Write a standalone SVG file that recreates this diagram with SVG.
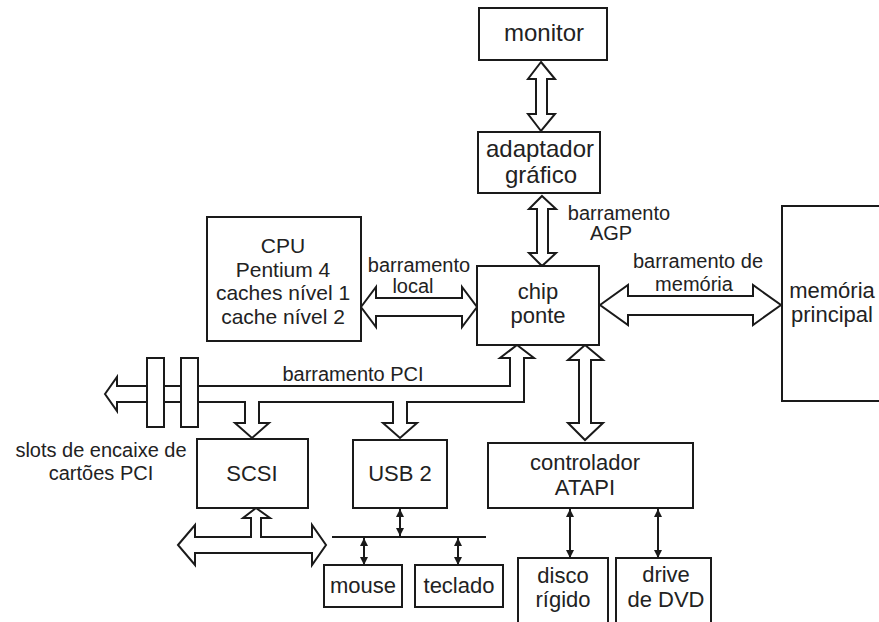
<svg xmlns="http://www.w3.org/2000/svg" width="879" height="622" viewBox="0 0 879 622">
<style>
.box{fill:#fff;stroke:#1a1a1a;stroke-width:2}
.bus{fill:#fff;stroke:#1a1a1a;stroke-width:2;stroke-linejoin:miter}
.ln{stroke:#1a1a1a;stroke-width:2;fill:none}
text{font-family:"Liberation Sans",Arial,sans-serif;fill:#222;text-anchor:middle}
.t{font-size:22px}
.tb{font-size:24px}
.tc{font-size:21px}
.lb{font-size:20px}
</style>
<defs>
<marker id="ah" viewBox="0 0 10 10" refX="10" refY="5" markerWidth="8" markerHeight="8" markerUnits="userSpaceOnUse" orient="auto-start-reverse">
<path d="M0,0 L10,5 L0,10 z" fill="#1a1a1a"/>
</marker>
</defs>
<rect width="879" height="622" fill="#fff"/>

<g id="connectors">
<!-- monitor <-> adaptador -->
<polygon class="bus" points="541,62 555,79 547,79 547,114 555,114 541,131 528,114 536,114 536,79 528,79"/>
<!-- AGP -->
<polygon class="bus" points="542,196 556,209 548,209 548,253 556,253 542,266 529,253 537,253 537,209 529,209"/>
<!-- barramento local -->
<polygon class="bus" points="361,307 376,287 376,298 462,298 462,287 477,307 462,327 462,316 376,316 376,327"/>
<!-- barramento de memória -->
<polygon class="bus" points="600,305 628,285 628,296 753,296 753,285 781,305 753,325 753,315 628,315 628,325"/>
<!-- chip <-> ATAPI -->
<polygon class="bus" points="585,345 603,360 591,360 591,423 603,423 585,440 568,423 579,423 579,360 568,360"/>
<!-- PCI bus -->
<polygon class="bus" points="105,394 117,377 117,386 510,386 510,358 500,358 517,345 534,358 524,358 524,402 407,402 407,423 417,423 400,438 383,423 393,423 393,402 259,402 259,423 269,423 252,438 235,423 245,423 245,402 117,402 117,411"/>
<!-- SCSI bus -->
<polygon class="bus" points="178,545 195,525 195,537 251,537 251,518 243,518 256,508 270,518 261,518 261,537 312,537 312,525 326,545 312,565 312,553 195,553 195,565"/>
<!-- USB bus -->
<line class="ln" x1="332" y1="537" x2="486" y2="537"/>
<line class="ln" x1="400" y1="509" x2="400" y2="536" marker-start="url(#ah)" marker-end="url(#ah)"/>
<line class="ln" x1="364" y1="538" x2="364" y2="565" marker-start="url(#ah)" marker-end="url(#ah)"/>
<line class="ln" x1="458" y1="538" x2="458" y2="565" marker-start="url(#ah)" marker-end="url(#ah)"/>
<!-- ATAPI devices -->
<line class="ln" x1="570" y1="509" x2="570" y2="558" marker-start="url(#ah)" marker-end="url(#ah)"/>
<line class="ln" x1="658" y1="509" x2="658" y2="558" marker-start="url(#ah)" marker-end="url(#ah)"/>
</g>

<g id="slots">
<rect class="box" x="147" y="358" width="17" height="69"/>
<rect class="box" x="181" y="358" width="17" height="69"/>
<text class="lb" x="101" y="457">slots de encaixe de</text>
<text class="lb" x="101" y="480">cartões PCI</text>
</g>

<g id="labels">
<text class="lb" x="619" y="220">barramento</text>
<text class="lb" x="611" y="240">AGP</text>
<text class="lb" x="419" y="272">barramento</text>
<text class="lb" x="413" y="293">local</text>
<text class="lb" x="698" y="268">barramento de</text>
<text class="lb" x="694" y="291">memória</text>
<text class="lb" x="353" y="381">barramento PCI</text>
</g>

<g id="monitor">
<rect class="box" x="479" y="8" width="128" height="52"/>
<text class="tb" x="544" y="41">monitor</text>
</g>

<g id="adaptador">
<rect class="box" x="478" y="132" width="122" height="61"/>
<text class="tb" x="540" y="157">adaptador</text>
<text class="tb" x="541" y="183">gráfico</text>
</g>

<g id="cpu">
<rect class="box" x="207" y="217" width="154" height="124"/>
<text class="tc" x="283" y="253">CPU</text>
<text class="tc" x="283" y="277">Pentium 4</text>
<text class="tc" x="283" y="300">caches nível 1</text>
<text class="tc" x="283" y="324">cache nível 2</text>
</g>

<g id="chip">
<rect class="box" x="477" y="266" width="122" height="79"/>
<text class="t" x="538" y="299">chip</text>
<text class="t" x="538" y="323">ponte</text>
</g>

<g id="memoria">
<rect class="box" x="782" y="206" width="110" height="195"/>
<text class="t" x="832" y="298">memória</text>
<text class="t" x="832" y="322">principal</text>
</g>

<g id="scsi">
<rect class="box" x="197" y="439" width="111" height="69"/>
<text class="t" x="252" y="481">SCSI</text>
</g>

<g id="usb">
<rect class="box" x="353" y="440" width="94" height="68"/>
<text class="t" x="400" y="481">USB 2</text>
</g>

<g id="atapi">
<rect class="box" x="488" y="443" width="205" height="65"/>
<text class="t" x="585" y="470">controlador</text>
<text class="t" x="585" y="495">ATAPI</text>
</g>

<g id="mouse">
<rect class="box" x="324" y="565" width="78" height="42"/>
<text class="t" x="363" y="593">mouse</text>
</g>

<g id="teclado">
<rect class="box" x="415" y="565" width="88" height="42"/>
<text class="t" x="459" y="593">teclado</text>
</g>

<g id="disco">
<rect class="box" x="518" y="558" width="90" height="70"/>
<text class="t" x="563" y="583">disco</text>
<text class="t" x="563" y="607">rígido</text>
</g>

<g id="dvd">
<rect class="box" x="616" y="558" width="95" height="70"/>
<text class="t" x="666" y="582">drive</text>
<text class="t" x="666" y="607">de DVD</text>
</g>
</svg>
